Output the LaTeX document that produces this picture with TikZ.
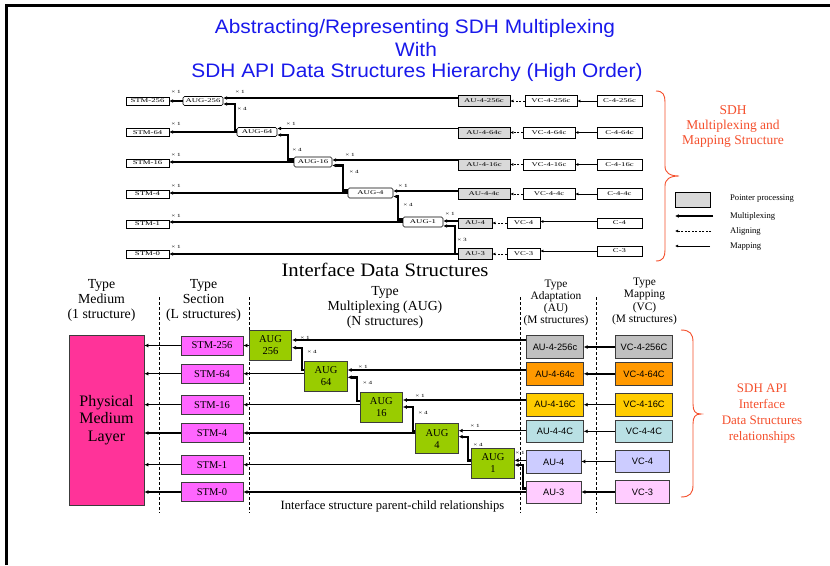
\documentclass[tikz,border=0pt]{standalone}
\usepackage{fontspec}
\setmainfont{Liberation Serif}
\newfontfamily\arialf{Liberation Sans}
\newfontfamily\titlef[FakeStretch=1.07]{Liberation Sans}
\newfontfamily\widef[FakeStretch=1.5]{Liberation Serif}
\newfontfamily\idsf[FakeStretch=1.09]{Liberation Serif}
\usetikzlibrary{arrows.meta,calc}
\definecolor{ttlblue}{RGB}{25,25,235}
\definecolor{sdhred}{RGB}{245,80,45}
\definecolor{pmlc}{RGB}{255,51,153}
\definecolor{stmc}{RGB}{255,102,255}
\definecolor{augc}{RGB}{153,204,0}
\definecolor{c256}{RGB}{192,192,192}
\definecolor{c64}{RGB}{255,153,0}
\definecolor{c16}{RGB}{255,204,0}
\definecolor{c4}{RGB}{185,224,228}
\definecolor{c1}{RGB}{204,204,255}
\definecolor{c0}{RGB}{255,204,255}
\definecolor{bordc}{RGB}{60,60,60}
\tikzset{
  tb/.style={draw, line width=0.6pt, inner sep=0pt, minimum height=8pt, font=\widef\fontsize{5.8}{6}\selectfont},
  taug/.style={tb, rounded corners=1.5pt, minimum height=9pt},
  tptr/.style={tb, fill=gray!30, minimum height=11pt},
  tplain/.style={tb, minimum height=11pt},
  tmux/.style={line width=1.7pt, -{Latex[length=3.8pt,width=3.8pt]}},
  tvmux/.style={line width=2.2pt, -{Latex[length=3.8pt,width=3.8pt]}},
  talign/.style={line width=0.8pt, dash pattern=on 2pt off 1.5pt, -{Latex[length=3pt,width=3pt]}},
  tmap/.style={line width=0.8pt, -{Latex[length=3pt,width=3pt]}},
  tlab/.style={inner sep=0pt, font=\widef\fontsize{4.8}{5}\selectfont},
  bstm/.style={draw=bordc, line width=0.8pt, fill=stmc, minimum width=62pt, minimum height=19pt, inner sep=0pt, font=\fontsize{10.5}{12}\selectfont},
  baug/.style={draw=bordc, line width=0.8pt, fill=augc, minimum width=42.4pt, minimum height=30pt, inner sep=0pt, align=center, font=\fontsize{10.5}{12}\selectfont},
  bbox/.style={draw=bordc, line width=0.8pt, minimum height=22.5pt, inner sep=0pt, font=\arialf\fontsize{9.3}{11}\selectfont},
  bmux/.style={line width=1.5pt, -{Latex[length=4pt,width=4pt]}},
  bvmux/.style={line width=2.4pt, -{Latex[length=4pt,width=4pt]}},
  blab/.style={inner sep=0pt, font=\widef\fontsize{4.8}{5}\selectfont},
  hdr/.style={align=center, inner sep=0pt, font=\fontsize{13.8}{15}\selectfont},
  hdrs/.style={align=center, inner sep=0pt, font=\fontsize{11.4}{12.2}\selectfont},
  sep/.style={line width=0.8pt, dash pattern=on 3pt off 2pt},
  bracec/.style={draw=sdhred, line width=0.9pt},
  redtxt/.style={align=center, text=sdhred, inner sep=0pt},
}
\begin{document}
\begin{tikzpicture}[x=1pt,y=-1pt]
\useasboundingbox (0,0) rectangle (830,565);
\fill[white] (0,0) rectangle (830,565);
\coordinate (fbl) at (6,565);
\coordinate (ftl) at (6,5);
\coordinate (ftr) at (830,5);
\draw[line width=3pt] (fbl) -- (ftl) -- (ftr);

% ---------------- title
\node[text=ttlblue, font=\titlef\fontsize{19.5}{22}\selectfont, inner sep=0pt] (t1) at (415,28) {Abstracting/Representing SDH Multiplexing};
\node[text=ttlblue, font=\titlef\fontsize{19.5}{22}\selectfont, inner sep=0pt] (t2) at (416,50) {With};
\node[text=ttlblue, font=\titlef\fontsize{19.5}{22}\selectfont, inner sep=0pt] (t3) at (417,72) {SDH API Data Structures Hierarchy (High Order)};

% ---------------- top structure
\node[tb, minimum width=43pt] (tstm256) at (147.5,101) {STM-256};
\node[tb, minimum width=43pt] (tstm64) at (147.5,132.5) {STM-64};
\node[tb, minimum width=43pt] (tstm16) at (147.5,163) {STM-16};
\node[tb, minimum width=43pt] (tstm4) at (147.5,194) {STM-4};
\node[tb, minimum width=43pt] (tstm1) at (147.5,224) {STM-1};
\node[tb, minimum width=43pt] (tstm0) at (147.5,254) {STM-0};

\node[taug, minimum width=40pt] (taug256) at (203,101) {AUG-256};
\node[taug, minimum width=40pt] (taug64) at (257,132) {AUG-64};
\node[taug, minimum width=38pt, minimum height=10pt] (taug16) at (313,162) {AUG-16};
\node[taug, minimum width=45pt, minimum height=10pt] (taug4) at (370.5,193) {AUG-4};
\node[taug, minimum width=40pt, minimum height=10pt] (taug1) at (423,222) {AUG-1};

\node[tptr, minimum width=52pt] (tau256) at (484,101) {AU-4-256c};
\node[tptr, minimum width=52pt] (tau64) at (484,132.5) {AU-4-64c};
\node[tptr, minimum width=52pt] (tau16) at (484,164.5) {AU-4-16c};
\node[tptr, minimum width=52pt] (tau4c) at (484,194) {AU-4-4c};
\node[tptr, minimum width=34pt, minimum height=10pt] (tau4) at (475,223) {AU-4};
\node[tptr, minimum width=34pt] (tau3) at (475,254) {AU-3};

\node[tplain, minimum width=52pt] (tvc256) at (551,101) {VC-4-256c};
\node[tplain, minimum width=52pt] (tvc64) at (549,132.5) {VC-4-64c};
\node[tplain, minimum width=52pt] (tvc16) at (549,164.5) {VC-4-16c};
\node[tplain, minimum width=52pt] (tvc4c) at (549,194) {VC-4-4c};
\node[tplain, minimum width=33pt] (tvc4) at (523.5,223) {VC-4};
\node[tplain, minimum width=33pt] (tvc3) at (523.5,254) {VC-3};

\node[tplain, minimum width=45pt] (tc256) at (619.5,101) {C-4-256c};
\node[tplain, minimum width=45pt] (tc64) at (619.5,132.5) {C-4-64c};
\node[tplain, minimum width=45pt] (tc16) at (619.5,164.5) {C-4-16c};
\node[tplain, minimum width=45pt] (tc4c) at (619.5,194) {C-4-4c};
\node[tplain, minimum width=45pt, minimum height=10pt] (tc4) at (619.5,223) {C-4};
\node[tplain, minimum width=45pt, minimum height=10pt] (tc3) at (619.5,251) {C-3};

% AUG inputs
\coordinate (t256in1) at ([yshift=3pt]taug256.east);
\coordinate (t256in2) at ([yshift=-3pt]taug256.east);
\coordinate (t64in1) at ([yshift=3.5pt]taug64.east);
\coordinate (t64in2) at ([yshift=-3pt]taug64.east);
\coordinate (t16in1) at ([yshift=2pt]taug16.east);
\coordinate (t16in2) at ([yshift=-3.5pt]taug16.east);
\coordinate (t4in1) at ([yshift=2pt]taug4.east);
\coordinate (t4in2) at ([yshift=-3.5pt]taug4.east);
\coordinate (t1in1) at ([yshift=1pt]taug1.east);
\coordinate (t1in2) at ([yshift=-4pt]taug1.east);

% to STM
\draw[tmux] (taug256.west) -- (taug256.west -| tstm256.east);
\draw[tmux] (taug64.west) -- (taug64.west -| tstm64.east);
\draw[tmux] (taug16.west) -- (taug16.west -| tstm16.east);
\draw[tmux] (taug4.west) -- (taug4.west -| tstm4.east);
\draw[tmux] (taug1.west) -- (taug1.west -| tstm1.east);
\draw[tmux] (tau3.west) -- (tau3.west -| tstm0.east);
% AU to AUG
\draw[tmux] (t256in1 -| tau256.west) -- (t256in1);
\draw[tmux] (t64in1 -| tau64.west) -- (t64in1);
\draw[tmux] (t16in1 -| tau16.west) -- (t16in1);
\draw[tmux] (t4in1 -| tau4c.west) -- (t4in1);
\draw[tmux] (t1in1 -| tau4.west) -- (t1in1);
% AUG to AUG
\draw[tvmux] ([yshift=2pt]taug64.west) -- ++(-2,0) |- (t256in2);
\draw[tvmux] ([yshift=2.5pt]taug16.west) -- ++(-6,0) |- (t64in2);
\draw[tvmux] ([yshift=2.5pt]taug4.west) -- ++(-5,0) |- (t16in2);
\draw[tvmux] ([yshift=2.5pt]taug1.west) -- ++(-5,0) |- (t4in2);
\draw[tvmux] (tau3.west) -- ++(-3,0) |- (t1in2);
% aligning
\draw[talign] (tvc256.west) -- (tvc256.west -| tau256.east);
\draw[talign] (tvc64.west) -- (tvc64.west -| tau64.east);
\draw[talign] (tvc16.west) -- (tvc16.west -| tau16.east);
\draw[talign] (tvc4c.west) -- (tvc4c.west -| tau4c.east);
\draw[talign] (tvc4.west) -- (tvc4.west -| tau4.east);
\draw[talign] (tvc3.west) -- (tvc3.west -| tau3.east);
% mapping
\draw[tmap] (tc256.west) -- (tc256.west -| tvc256.east);
\draw[tmap] (tc64.west) -- (tc64.west -| tvc64.east);
\draw[tmap] (tc16.west) -- (tc16.west -| tvc16.east);
\draw[tmap] (tc4c.west) -- (tc4c.west -| tvc4c.east);
\draw[tmap] ([yshift=1.5pt]tc4.west) -- ([yshift=1.5pt]tc4.west -| tvc4.east);
\draw[tmap] (tc3.west) -- (tc3.west -| tvc3.east);

% multiplicity labels
\node[tlab] (tl1) at (176,92) {× 1};
\node[tlab] (tl2) at (176,124) {× 1};
\node[tlab] (tl3) at (176,155) {× 1};
\node[tlab] (tl4) at (176,186) {× 1};
\node[tlab] (tl5) at (176,216) {× 1};
\node[tlab] (tl6) at (176,247) {× 1};
\node[tlab] (tl7) at (240,92) {× 1};
\node[tlab] (tl8) at (242,109) {× 4};
\node[tlab] (tl9) at (291,124) {× 1};
\node[tlab] (tl10) at (297,150) {× 4};
\node[tlab] (tl11) at (350,155) {× 1};
\node[tlab] (tl12) at (354,172) {× 4};
\node[tlab] (tl13) at (403,186) {× 1};
\node[tlab] (tl14) at (408,205) {× 4};
\node[tlab] (tl15) at (450,214) {× 1};
\node[tlab] (tl16) at (462,240) {× 3};

% legend
\node[draw, line width=0.8pt, fill=gray!30, minimum width=35pt, minimum height=15pt, inner sep=0pt] (lgbox) at (692.5,199.5) {};
\coordinate (lgm1) at (713,216);
\coordinate (lgm2) at (675,216);
\coordinate (lga1) at (711,231);
\coordinate (lga2) at (675,231);
\coordinate (lgp1) at (710,246);
\coordinate (lgp2) at (675,246);
\draw[tmux, line width=1.8pt] (lgm1) -- (lgm2);
\draw[talign, line width=0.9pt] (lga1) -- (lga2);
\draw[tmap, line width=0.9pt] (lgp1) -- (lgp2);
\node[anchor=west, inner sep=0pt, font=\fontsize{8.6}{10}\selectfont] (lgt1) at (730,199) {Pointer processing};
\node[anchor=west, inner sep=0pt, font=\fontsize{8.6}{10}\selectfont] (lgt2) at (730,216.5) {Multiplexing};
\node[anchor=west, inner sep=0pt, font=\fontsize{8.6}{10}\selectfont] (lgt3) at (730,231.5) {Aligning};
\node[anchor=west, inner sep=0pt, font=\fontsize{8.6}{10}\selectfont] (lgt4) at (730,246.5) {Mapping};

% top brace and text
\draw[bracec] (656,91) .. controls (663,91) and (665,95) .. (665,102) -- (665,166) .. controls (665,173) and (670,176) .. (679,176) .. controls (670,176) and (665,179) .. (665,186) -- (665,250) .. controls (665,257) and (663,261) .. (656,261);
\node[redtxt, font=\fontsize{13.5}{15}\selectfont] (sdhtxt) at (733,126) {SDH\\Multiplexing and\\Mapping Structure};

% ---------------- bottom
\node[font=\idsf\fontsize{19}{21}\selectfont, inner sep=0pt] (ids) at (385,270) {Interface Data Structures};
\node[hdr] (h1) at (101.5,300.5) {Type\\Medium\\(1 structure)};
\node[hdr] (h2) at (203.5,300.5) {Type\\Section\\(L structures)};
\node[hdr] (h3) at (385,307.5) {Type\\Multiplexing (AUG)\\(N structures)};
\node[hdrs] (h4) at (556,303) {Type\\Adaptation\\(AU)\\(M structures)};
\node[hdrs] (h5) at (644.5,301.5) {Type\\Mapping\\(VC)\\(M structures)};

\coordinate (s1a) at (159.3,297); \coordinate (s1b) at (159.3,513);
\coordinate (s2a) at (249.5,297); \coordinate (s2b) at (249.5,513);
\coordinate (s3a) at (520.7,297); \coordinate (s3b) at (520.7,513);
\coordinate (s4a) at (596.7,297); \coordinate (s4b) at (596.7,513);
\draw[sep] (s1a) -- (s1b);
\draw[sep] (s2a) -- (s2b);
\draw[sep] (s3a) -- (s3b);
\draw[sep] (s4a) -- (s4b);

\node[draw=bordc, line width=0.8pt, fill=pmlc, minimum width=75pt, minimum height=170pt, inner sep=0pt, align=center, font=\fontsize{16}{17.7}\selectfont] (pml) at (106.5,420) {Physical\\Medium\\Layer};

\node[bstm] (bstm256) at (212,345.5) {STM-256};
\node[bstm] (bstm64) at (212,373.7) {STM-64};
\node[bstm] (bstm16) at (212,404.7) {STM-16};
\node[bstm] (bstm4) at (212,433) {STM-4};
\node[bstm] (bstm1) at (212,464.7) {STM-1};
\node[bstm] (bstm0) at (212,492) {STM-0};

\node[baug] (baug256) at (270.5,345) {AUG\\256};
\node[baug] (baug64) at (326,376) {AUG\\64};
\node[baug] (baug16) at (381.3,407) {AUG\\16};
\node[baug] (baug4) at (437,438.7) {AUG\\4};
\node[baug] (baug1) at (493,463.3) {AUG\\1};

\node[bbox, fill=c256, minimum width=56.6pt] (bau256) at (555,347) {AU-4-256c};
\node[bbox, fill=c64, minimum width=56.6pt] (bau64) at (555,373.8) {AU-4-64c};
\node[bbox, fill=c16, minimum width=56.6pt] (bau16) at (555,404.7) {AU-4-16C};
\node[bbox, fill=c4, minimum width=56.6pt] (bau4c) at (555,431.3) {AU-4-4C};
\node[bbox, fill=c1, minimum width=54.3pt] (bau4) at (553.8,462) {AU-4};
\node[bbox, fill=c0, minimum width=54.3pt] (bau3) at (553.8,492.2) {AU-3};

\node[bbox, fill=c256, minimum width=56.6pt] (bvc256) at (644,347) {VC-4-256C};
\node[bbox, fill=c64, minimum width=56.6pt] (bvc64) at (644,373.8) {VC-4-64C};
\node[bbox, fill=c16, minimum width=56.6pt] (bvc16) at (644,404.7) {VC-4-16C};
\node[bbox, fill=c4, minimum width=56.6pt] (bvc4c) at (644,431.3) {VC-4-4C};
\node[bbox, fill=c1, minimum width=53.6pt] (bvc4) at (642.5,461.5) {VC-4};
\node[bbox, fill=c0, minimum width=53.6pt] (bvc3) at (642.5,492) {VC-3};

% STM to physical
\draw[bmux] (bstm256.west) -- (bstm256.west -| pml.east);
\draw[bmux] (bstm64.west) -- (bstm64.west -| pml.east);
\draw[bmux] (bstm16.west) -- (bstm16.west -| pml.east);
\draw[bmux] (bstm4.west) -- (bstm4.west -| pml.east);
\draw[bmux] (bstm1.west) -- (bstm1.west -| pml.east);
\draw[bmux] (bstm0.west) -- (bstm0.west -| pml.east);
% AUG to STM
\draw[bmux] (bstm256.east -| baug256.west) -- (bstm256.east);
\draw[bmux] (bstm64.east -| baug64.west) -- (bstm64.east);
\draw[bmux] (bstm16.east -| baug16.west) -- (bstm16.east);
\draw[bmux] (bstm4.east -| baug4.west) -- (bstm4.east);
\draw[bmux] (bstm1.east -| baug1.west) -- (bstm1.east);
\draw[bmux] (bstm0.east -| bau3.west) -- (bstm0.east);
% AUG inputs
\coordinate (b256in1) at ([yshift=5pt]baug256.east);
\coordinate (b256in2) at ([yshift=-2.7pt]baug256.east);
\coordinate (b64in1) at ([yshift=6pt]baug64.east);
\coordinate (b64in2) at ([yshift=-1.3pt]baug64.east);
\coordinate (b16in1) at ([yshift=7pt]baug16.east);
\coordinate (b16in2) at ([yshift=0pt]baug16.east);
\coordinate (b4in1) at ([yshift=8pt]baug4.east);
\coordinate (b4in2) at ([yshift=2pt]baug4.east);
\coordinate (b1in1) at ([yshift=3pt]baug1.east);
\coordinate (b1in2) at ([yshift=-1.7pt]baug1.east);
\draw[bmux] (b256in1 -| bau256.west) -- (b256in1);
\draw[bmux] (b64in1 -| bau64.west) -- (b64in1);
\draw[bmux] (b16in1 -| bau16.west) -- (b16in1);
\draw[bmux] (b4in1 -| bau4c.west) -- (b4in1);
\draw[bmux] (b1in1 -| bau4.west) -- (b1in1);
\draw[bvmux] ([yshift=6pt]baug64.west) -- ++(-2.5,0) |- (b256in2);
\draw[bvmux] ([yshift=6pt]baug16.west) -- ++(-2.7,0) |- (b64in2);
\draw[bvmux] ([yshift=8pt]baug4.west) -- ++(-2.7,0) |- (b16in2);
\draw[bvmux] ([yshift=3pt]baug1.west) -- ++(-3.4,0) |- (b4in2);
\draw[bvmux] ([yshift=3.7pt]bau3.west) -- ++(-3.4,0) |- (b1in2);
% VC to AU
\draw[bmux] (bvc256.west) -- (bvc256.west -| bau256.east);
\draw[bmux] (bvc64.west) -- (bvc64.west -| bau64.east);
\draw[bmux] (bvc16.west) -- (bvc16.west -| bau16.east);
\draw[bmux] (bvc4c.west) -- (bvc4c.west -| bau4c.east);
\draw[bmux] (bvc4.west) -- (bvc4.west -| bau4.east);
\draw[bmux] (bvc3.west) -- (bvc3.west -| bau3.east);

\node[blab] (bl1) at (305,337.5) {× 1};
\node[blab] (bl2) at (312,351.5) {× 4};
\node[blab] (bl3) at (363,366.5) {× 1};
\node[blab] (bl4) at (367.5,383) {× 4};
\node[blab] (bl5) at (420,395.5) {× 1};
\node[blab] (bl6) at (423,412.5) {× 4};
\node[blab] (bl7) at (475,425.5) {× 1};
\node[blab] (bl8) at (478,445) {× 4};
\node[blab] (bl9) at (520,453) {× 1};

\node[font=\fontsize{12.6}{14}\selectfont, inner sep=0pt] (cap) at (392.5,506.5) {Interface structure parent-child relationships};

% bottom brace and text
\draw[bracec] (681,330) .. controls (690,330) and (693,334) .. (693,342) -- (693,404) .. controls (693,411) and (695,414) .. (701,414) .. controls (695,414) and (693,417) .. (693,424) -- (693,485) .. controls (693,493) and (690,497) .. (681,497);
\node[redtxt, font=\fontsize{13}{16}\selectfont] (apitxt) at (762,414) {SDH API\\Interface\\Data Structures\\relationships};
\end{tikzpicture}
\end{document}
